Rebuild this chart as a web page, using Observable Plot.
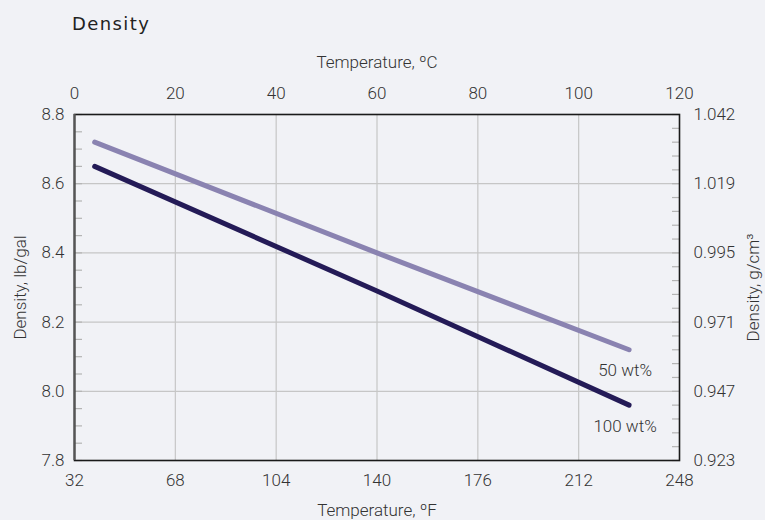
<!DOCTYPE html>
<html><head><meta charset="utf-8">
<script src="https://cdn.jsdelivr.net/npm/d3@7"></script>
<script src="https://cdn.jsdelivr.net/npm/@observablehq/plot@0.6"></script>
<style>
html,body{margin:0;padding:0;background:#f1f2f6;}
#wrap{position:relative;width:765px;height:520px;overflow:hidden;}
#title{position:absolute;left:72px;top:15px;font-family:"DejaVu Sans";font-size:18px;letter-spacing:1.4px;color:#222;line-height:18px;}
#chart{position:absolute;left:0;top:40px;}
</style></head><body>
<div id="wrap"><div id="title">Density</div><div id="chart"></div></div>
<script>
// Data
const tempF = [39.2, 140, 230];            // °F (4 °C, 60 °C, 110 °C)
const wt50 = [8.72, 8.40, 8.12];           // lb/gal
const wt100 = [8.65, 8.29, 7.96];          // lb/gal
const seriesNames = ["50 wt%", "100 wt%"];
const fTicks = [32, 68, 104, 140, 176, 212, 248];
const cTicks = [0, 20, 40, 60, 80, 100, 120];
const lbTicks = [7.8, 8.0, 8.2, 8.4, 8.6, 8.8];
const gcmTicks = ["0.923", "0.947", "0.971", "0.995", "1.019", "1.042"];
const leftMinor = d3.range(0, 21).map(i => +(7.8 + i * 0.05).toFixed(2));
const rightMinor = d3.range(0, 26).map(i => +(7.8 + i * 0.04).toFixed(2));

const seriesValues = [wt50, wt100];
const rows = seriesNames.flatMap((s, k) => tempF.map((t, i) => ({s, t, d: seriesValues[k][i]})));
const ends = seriesNames.map((s, k) => ({s, t: tempF[tempF.length - 1], d: seriesValues[k][tempF.length - 1]}));

const txt = "#333";
const chart = Plot.plot({
  width: 765, height: 480,
  marginTop: 74, marginBottom: 60, marginLeft: 74, marginRight: 86,
  style: {background: "transparent", fontFamily: "Roboto", fontSize: "17px", fontWeight: 300, color: txt, overflow: "visible"},
  x: {domain: [32, 248]},
  y: {domain: [7.8, 8.8]},
  color: {domain: seriesNames, range: ["#8a83b1", "#241b57"]},
  marks: [
    Plot.gridX(fTicks.slice(1, -1), {stroke: "#c6c6c6", strokeOpacity: 1, strokeWidth: 1.2}),
    Plot.gridY(lbTicks.slice(1, -1), {stroke: "#c6c6c6", strokeOpacity: 1, strokeWidth: 1.2}),
    Plot.axisY(leftMinor, {anchor: "left", tickSize: 8, dx: 8, stroke: "#b4b4b4", strokeWidth: 1.2, tickFormat: () => "", label: null}),
    Plot.axisY(rightMinor, {anchor: "right", tickSize: 8, dx: -8, stroke: "#b4b4b4", strokeWidth: 1.2, tickFormat: () => "", label: null}),
    Plot.frame({stroke: "#1a1a1a", strokeWidth: 1.6}),
    Plot.ruleX([32], {stroke: "#555", strokeWidth: 2.2}),
    Plot.axisX(fTicks, {anchor: "bottom", tickSize: 0, tickPadding: 13, label: null, fill: txt}),
    Plot.axisY(lbTicks, {anchor: "left", tickSize: 0, tickPadding: 10, tickFormat: d3.format(".1f"), label: null, fill: txt}),
    Plot.text(cTicks, {x: c => 32 + 1.8 * c, text: c => String(c), frameAnchor: "top", lineAnchor: "bottom", dy: -16, fill: txt}),
    Plot.text(lbTicks, {y: d => d, text: (d, i) => gcmTicks[i], frameAnchor: "right", textAnchor: "start", dx: 14, fill: txt}),
    Plot.text(["Temperature, ºC"], {text: d => d, frameAnchor: "top", lineAnchor: "bottom", dy: -47, fill: txt}),
    Plot.text(["Temperature, ºF"], {text: d => d, frameAnchor: "bottom", lineAnchor: "bottom", dy: 55, fill: txt}),
    Plot.text(["Density, lb/gal"], {text: d => d, frameAnchor: "left", textAnchor: "middle", rotate: -90, dx: -54, fill: txt}),
    Plot.text(["Density, g/cm³"], {text: d => d, frameAnchor: "right", textAnchor: "middle", rotate: -90, dx: 74, fill: txt}),
    Plot.line(rows, {x: "t", y: "d", z: "s", stroke: "s", strokeWidth: 5, strokeLinecap: "round"}),
    Plot.text(ends, {x: "t", y: "d", text: "s", dx: -4, dy: 21, fill: txt})
  ]
});
document.getElementById("chart").appendChild(chart);
</script>
</body></html>
